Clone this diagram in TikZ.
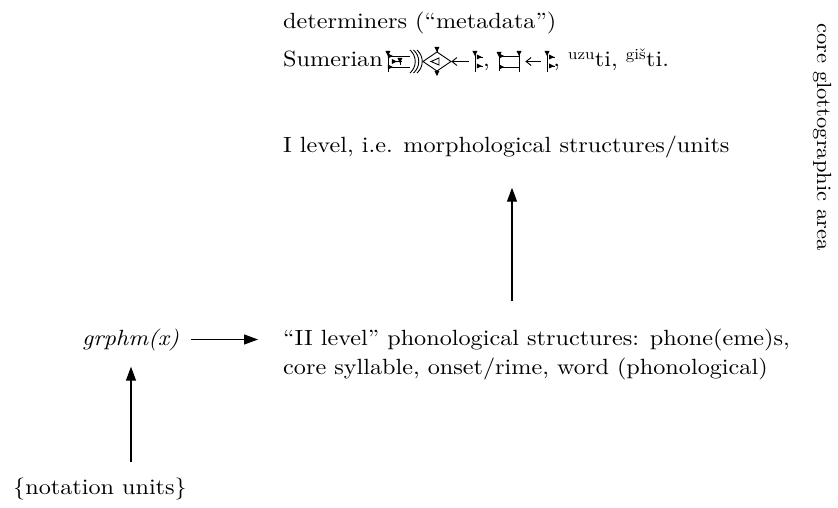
\documentclass[tikz,border=0pt]{standalone}
\usepackage{fontspec}
\setmainfont{lmroman10-regular.otf}[ItalicFont=lmroman10-italic.otf,BoldFont=lmroman10-bold.otf,FakeStretch=1.1]
\usetikzlibrary{arrows.meta,positioning}

% small cuneiform strokes
\newcommand{\hwedge}[3]{\fill (#1,#2) ++(0,2.5) -- ++(0,-5) -- ++(5,2.5) -- cycle; \draw (#1,#2) -- ++(#3,0);}
\newcommand{\vwedge}[3]{\fill (#1,#2) ++(-2.5,0) -- ++(5,0) -- ++(-2.5,-5) -- cycle; \draw (#1,#2) -- ++(0,-#3);}
\newcommand{\wink}[2]{\draw (#1,#2) ++(5,4) -- ++(-5,-4) -- ++(5,-4);}

\begin{document}
\begin{tikzpicture}[x=1pt,y=1pt,
  lbl/.style={anchor=base west,inner sep=0pt,font=\fontsize{22}{29}\selectfont},
  arr/.style={-{Triangle[length=14pt,width=10pt]},line width=1.3pt},
  cun/.style={line width=0.9pt}
]
  \useasboundingbox (0,0) rectangle (838,507);

  \node[lbl] (det) at (283,478) {determiners (“metadata”)};
  \node[lbl] (sum) at (283,440) {Sumerian};

  % first sign group
  \begin{scope}[shift={([xshift=5pt]sum.base east)},cun]
    \vwedge{0}{16}{21}
    \hwedge{0}{11}{22}
    \hwedge{0}{0}{22}
    \hwedge{4}{5.5}{10}
    \vwedge{12}{9}{7}
    \foreach \i in {0,3.5,7}
      \draw (22+\i,17) .. controls (29+\i,11) and (29+\i,0) .. (22+\i,-6);
    \draw (35,5.5) -- (49,15) -- (63,5.5) -- (49,-4) -- cycle;
    \draw (43,5.5) -- (51,9) -- (51,2) -- cycle;
    \vwedge{49}{20}{5}
    \vwedge{49}{-4}{4}
    \wink{64}{5.5}
    \draw (64,5.5) -- (81,5.5);
    \vwedge{87}{16}{21}
    \hwedge{89}{10}{6}
    \hwedge{89}{1}{6}
  \end{scope}
  \node[lbl] (cm) at ([xshift=100pt]sum.base east) {,};

  % second sign group
  \begin{scope}[shift={([xshift=9pt]cm.base east)},cun]
    \vwedge{0}{15}{19}
    \hwedge{0}{11}{20}
    \hwedge{0}{0}{20}
    \vwedge{20}{16}{21}
    \wink{27}{5.5}
    \draw (27,5.5) -- (42,5.5);
    \vwedge{48}{16}{21}
    \hwedge{50}{10}{6}
    \hwedge{50}{1}{6}
  \end{scope}
  \node[lbl] (rest) at ([xshift=63pt]cm.base east) {, \textsuperscript{uzu}ti, \textsuperscript{giš}ti.};

  \node[lbl] (lev1) at (283,354) {I level, i.e. morphological structures/units};
  \node[lbl,align=left] (ii) at (283,133)
    {“II level” phonological structures: phone(eme)s,\\core syllable, onset/rime, word (phonological)};
  \node[lbl] (g) at (82,162) {\itshape grphm(x)};
  \node[lbl] (nu) at (13,13) {\{notation units\}};
  \node[lbl,anchor=center,rotate=-90,font=\fontsize{20.5}{24}\selectfont] (area) at (822,370) {core glottographic area};

  \coordinate (upx) at (512,0);
  \coordinate (lx) at (131,0);
  \draw[arr,shorten <=27pt,shorten >=29pt] (ii.north -| upx) -- (lev1.south -| upx);
  \draw[arr,shorten <=12pt,shorten >=25pt] (g.east) -- (g.east -| ii.west);
  \draw[arr,shorten <=15pt,shorten >=16pt] (nu.north -| lx) -- (g.south -| lx);
\end{tikzpicture}
\end{document}
